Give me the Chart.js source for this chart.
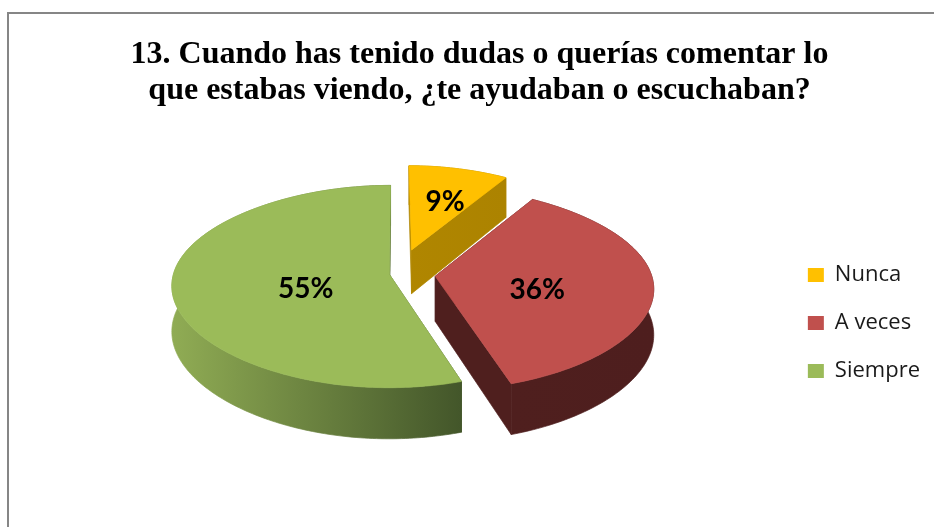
<!DOCTYPE html>
<html>
<head>
<meta charset="utf-8">
<title>13. Cuando has tenido dudas</title>
<script src="https://cdn.jsdelivr.net/npm/chart.js@4"></script>
<style>
  html, body { margin: 0; padding: 0; background: #fff; }
  canvas { display: block; }
</style>
</head>
<body>
<canvas id="pieChart" width="934" height="527"></canvas>
<script>
// datos
const categories = ['Nunca', 'A veces', 'Siempre'];
const percentages = [9, 36, 55];
const titleLines = [
  '13. Cuando has tenido dudas o querías comentar lo',
  'que estabas viendo, ¿te ayudaban o escuchaban?'
];
const topColors = ['#FFC000', '#C0504D', '#9BBB59'];
const sideColors = [['#B08600', '#AC8300'], ['#4F1F1E', '#4E1E1E'], ['#90AC54', '#43562A']];
const explode = [56, 39, 7];
const labelRadius = [0.67, 0.47, 0.39];

// vista 3D de la tarta (perspectiva simple)
const view = { moveX: -9, moveY: -49, squash: 0.461, depth: 45, kx1: 0.12, kx2: 0.03, ky: 0.119 };

function project(arc, u, v, z) {
  const sx = 1 - view.kx1 * v - view.kx2 * v * v;
  const sy = 1 / (1 + view.ky * v);
  return {
    x: arc.x + view.moveX + u * arc.outerRadius * sx,
    y: arc.y + view.moveY - v * arc.outerRadius * view.squash * sy + z * view.depth * sy
  };
}

// puntos del arco de una porcion, en coordenadas del plano
function rimPoints(arc, offset) {
  const mid = (arc.startAngle + arc.endAngle) / 2;
  const cu = Math.cos(mid) * offset / arc.outerRadius;
  const cv = -Math.sin(mid) * offset / arc.outerRadius;
  const pts = [];
  const steps = Math.ceil((arc.endAngle - arc.startAngle) / (Math.PI / 180));
  for (let i = 0; i <= steps; i++) {
    const a = arc.startAngle + (arc.endAngle - arc.startAngle) * i / steps;
    pts.push({ u: cu + Math.cos(a), v: cv - Math.sin(a) });
  }
  return { center: { u: cu, v: cv }, pts };
}

function fillPoly(ctx, poly, color) {
  ctx.beginPath();
  poly.forEach((p, i) => (i ? ctx.lineTo(p.x, p.y) : ctx.moveTo(p.x, p.y)));
  ctx.closePath();
  ctx.fillStyle = color;
  ctx.strokeStyle = color;
  ctx.lineWidth = 0.7;
  ctx.fill();
  ctx.stroke();
}

const pie3d = {
  id: 'pie3d',
  beforeDraw(chart) {
    // marco gris: solo se ven arriba e izquierda
    const ctx = chart.ctx;
    ctx.save();
    ctx.fillStyle = '#fff';
    ctx.fillRect(0, 0, chart.width, chart.height);
    ctx.strokeStyle = '#868686';
    ctx.lineWidth = 2;
    ctx.beginPath();
    ctx.moveTo(8, chart.height);
    ctx.lineTo(8, 13);
    ctx.lineTo(chart.width, 13);
    ctx.stroke();
    ctx.restore();
  },
  beforeDatasetDraw() {
    return false; // la tarta plana no se pinta
  },
  afterDatasetsDraw(chart) {
    const ctx = chart.ctx;
    const arcs = chart.getDatasetMeta(0).data;
    ctx.save();
    // orden: amarillo detras, luego verde, rojo delante
    [0, 2, 1].forEach((idx) => {
      const arc = arcs[idx].getProps(['x', 'y', 'startAngle', 'endAngle', 'outerRadius'], true);
      const { center, pts } = rimPoints(arc, explode[idx]);
      const top = pts.map((p) => project(arc, p.u, p.v, 0));
      const low = pts.map((p) => project(arc, p.u, p.v, 1));
      const c0 = project(arc, center.u, center.v, 0);
      const c1 = project(arc, center.u, center.v, 1);
      const xs = top.map((p) => p.x);
      const grad = ctx.createLinearGradient(Math.min(...xs), 0, Math.max(...xs), 0);
      grad.addColorStop(0, sideColors[idx][0]);
      grad.addColorStop(1, sideColors[idx][1]);
      // pared curva, caras rectas y por ultimo la cara de arriba
      fillPoly(ctx, top.concat(low.slice().reverse()), grad);
      fillPoly(ctx, [c0, top[0], low[0], c1], grad);
      fillPoly(ctx, [c0, top[top.length - 1], low[low.length - 1], c1], grad);
      fillPoly(ctx, [c0].concat(top), topColors[idx]);
    });
    // etiquetas de porcentaje
    ctx.fillStyle = '#000';
    ctx.font = 'bold 28px Lato';
    ctx.textAlign = 'center';
    ctx.textBaseline = 'middle';
    arcs.forEach((el, idx) => {
      const arc = el.getProps(['x', 'y', 'startAngle', 'endAngle', 'outerRadius'], true);
      const mid = (arc.startAngle + arc.endAngle) / 2;
      const r = explode[idx] / arc.outerRadius + labelRadius[idx];
      const p = project(arc, Math.cos(mid) * r, -Math.sin(mid) * r, 0);
      ctx.fillText(percentages[idx] + '%', p.x, p.y + 8);
    });
    ctx.restore();
  }
};

new Chart(document.getElementById('pieChart'), {
  type: 'pie',
  data: {
    labels: categories,
    datasets: [{ data: percentages, backgroundColor: topColors, borderWidth: 0 }]
  },
  options: {
    responsive: false,
    animation: false,
    radius: 216,
    layout: { padding: { top: 37, left: 29, right: 4, bottom: 51 } },
    plugins: {
      tooltip: { enabled: false },
      title: {
        display: true,
        text: titleLines,
        color: '#000',
        font: { family: 'Liberation Serif', size: 32, weight: 'bold', lineHeight: 1.125 },
        padding: { top: 0, bottom: 61 }
      },
      legend: {
        position: 'right',
        fullSize: false,
        labels: {
          boxWidth: 16,
          boxHeight: 14,
          padding: 26,
          color: '#1a1a1a',
          font: { family: 'Open Sans', size: 22 }
        }
      }
    }
  },
  plugins: [pie3d]
});
</script>
</body>
</html>
